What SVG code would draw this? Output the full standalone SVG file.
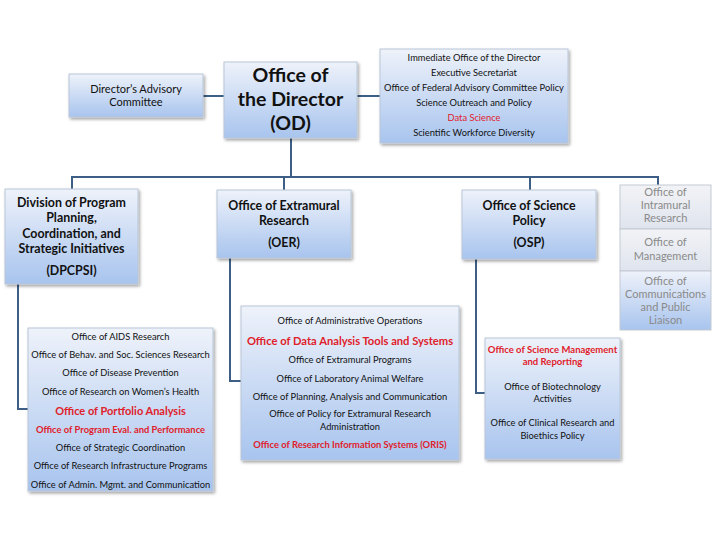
<svg xmlns="http://www.w3.org/2000/svg" width="720" height="540" viewBox="0 0 720 540">
<defs>
<linearGradient id="blue" x1="0" y1="0" x2="0" y2="1">
<stop offset="0" stop-color="#eef2fa"/>
<stop offset="1" stop-color="#a8c4ee"/>
</linearGradient>
<linearGradient id="gray" x1="0" y1="0" x2="0" y2="1">
<stop offset="0" stop-color="#f2f3f6"/>
<stop offset="1" stop-color="#dfe4ee"/>
</linearGradient>
<filter id="sh" x="-10%" y="-10%" width="125%" height="130%">
<feDropShadow dx="1.5" dy="2" stdDeviation="1.5" flood-color="#000" flood-opacity="0.35"/>
</filter>
</defs>
<style>
.box{fill:url(#blue);stroke:#b9c6d8;stroke-width:1;filter:url(#sh)}
.gbox{fill:url(#gray);stroke:#c3c9d3;stroke-width:1}
.gbox2{fill:url(#blue);stroke:#c3c9d3;stroke-width:1}
text{font-family:Lato,"Liberation Sans",sans-serif;text-anchor:middle;fill:#111}
.h{font-weight:bold;font-size:12.4px}
.t{font-size:9.3px}
.r{fill:#e0202a;font-weight:bold}
.g{fill:#8a8a8a;font-size:11px}
.con{fill:none;stroke:#3d5f86;stroke-width:2}
</style>
<rect width="720" height="540" fill="#fff"/>
<g id="connectors">
<line class="con" x1="203" y1="96" x2="224" y2="96"/>
<line class="con" x1="357" y1="96" x2="380" y2="96"/>
<polyline class="con" points="291,138 291,177"/>
<polyline class="con" points="72,189 72,177 658,177 658,185"/>
<line class="con" x1="284" y1="177" x2="284" y2="190"/>
<line class="con" x1="530" y1="177" x2="530" y2="190"/>
<polyline class="con" points="18,284 18,409 28,409"/>
<polyline class="con" points="230,258 230,381 241,381"/>
<polyline class="con" points="476,259 476,393 485,393"/>
</g>
<g id="advisory">
<rect class="box" x="69" y="74" width="134" height="43"/>
<text x="136" y="93" style="font-size:11px">Director’s Advisory</text>
<text x="136" y="106" style="font-size:11px">Committee</text>
</g>
<g id="od">
<rect class="box" x="224" y="62" width="133" height="76"/>
<text x="290.5" y="82" style="font-weight:bold;font-size:19.5px">Office of</text>
<text x="290.5" y="106" style="font-weight:bold;font-size:19.5px">the Director</text>
<text x="290.5" y="130" style="font-weight:bold;font-size:19.5px">(OD)</text>
</g>
<g id="od-offices">
<rect class="box" x="380" y="49" width="188" height="94"/>
<text class="t" x="474" y="61">Immediate Office of the Director</text>
<text class="t" x="474" y="76">Executive Secretariat</text>
<text class="t" x="474" y="91">Office of Federal Advisory Committee Policy</text>
<text class="t" x="474" y="106">Science Outreach and Policy</text>
<text class="t r" x="474" y="121" style="font-weight:normal">Data Science</text>
<text class="t" x="474" y="136">Scientific Workforce Diversity</text>
</g>
<g id="dpcpsi">
<rect class="box" x="5" y="189" width="133" height="95"/>
<text class="h" x="71.5" y="207">Division of Program</text>
<text class="h" x="71.5" y="222">Planning,</text>
<text class="h" x="71.5" y="238">Coordination, and</text>
<text class="h" x="71.5" y="253">Strategic Initiatives</text>
<text class="h" x="71.5" y="275">(DPCPSI)</text>
</g>
<g id="oer">
<rect class="box" x="217" y="190" width="134" height="68"/>
<text class="h" x="284" y="210">Office of Extramural</text>
<text class="h" x="284" y="225">Research</text>
<text class="h" x="284" y="247">(OER)</text>
</g>
<g id="osp">
<rect class="box" x="462" y="190" width="134" height="69"/>
<text class="h" x="529" y="210">Office of Science</text>
<text class="h" x="529" y="225">Policy</text>
<text class="h" x="529" y="247">(OSP)</text>
</g>
<g id="oir">
<rect class="gbox" x="620" y="185" width="91" height="44"/>
<text class="g" x="665.5" y="196">Office of</text>
<text class="g" x="665.5" y="209">Intramural</text>
<text class="g" x="665.5" y="222">Research</text>
</g>
<g id="om">
<rect class="gbox" x="620" y="229" width="91" height="42"/>
<text class="g" x="665.5" y="246">Office of</text>
<text class="g" x="665.5" y="260">Management</text>
</g>
<g id="ocpl">
<rect class="gbox2" x="620" y="271" width="91" height="59"/>
<text class="g" x="665.5" y="285">Office of</text>
<text class="g" x="665.5" y="298">Communications</text>
<text class="g" x="665.5" y="311">and Public</text>
<text class="g" x="665.5" y="324">Liaison</text>
</g>
<g id="dpcpsi-offices">
<rect class="box" x="28" y="328" width="185" height="163"/>
<text class="t" x="120.5" y="340">Office of AIDS Research</text>
<text class="t" x="120.5" y="358">Office of Behav. and Soc. Sciences Research</text>
<text class="t" x="120.5" y="376">Office of Disease Prevention</text>
<text class="t" x="120.5" y="395">Office of Research on Women’s Health</text>
<text class="t r" x="120.5" y="415" style="font-size:11px">Office of Portfolio Analysis</text>
<text class="t r" x="120.5" y="433" style="font-size:9.4px">Office of Program Eval. and Performance</text>
<text class="t" x="120.5" y="451">Office of Strategic Coordination</text>
<text class="t" x="120.5" y="469">Office of Research Infrastructure Programs</text>
<text class="t" x="120.5" y="488">Office of Admin. Mgmt. and Communication</text>
</g>
<g id="oer-offices">
<rect class="box" x="241" y="306" width="218" height="154"/>
<text class="t" x="350" y="324">Office of Administrative Operations</text>
<text class="t r" x="350" y="345" style="font-size:11.2px">Office of Data Analysis Tools and Systems</text>
<text class="t" x="350" y="363">Office of Extramural Programs</text>
<text class="t" x="350" y="382">Office of Laboratory Animal Welfare</text>
<text class="t" x="350" y="400">Office of Planning, Analysis and Communication</text>
<text class="t" x="350" y="417">Office of Policy for Extramural Research</text>
<text class="t" x="350" y="430">Administration</text>
<text class="t r" x="350" y="448" style="font-size:9.4px">Office of Research Information Systems (ORIS)</text>
</g>
<g id="osp-offices">
<rect class="box" x="485" y="338" width="135" height="121"/>
<text class="t r" x="552.5" y="353" style="font-size:9.5px">Office of Science Management</text>
<text class="t r" x="552.5" y="365" style="font-size:9.5px">and Reporting</text>
<text class="t" x="552.5" y="390">Office of Biotechnology</text>
<text class="t" x="552.5" y="402">Activities</text>
<text class="t" x="552.5" y="426">Office of Clinical Research and</text>
<text class="t" x="552.5" y="439">Bioethics Policy</text>
</g>
</svg>
